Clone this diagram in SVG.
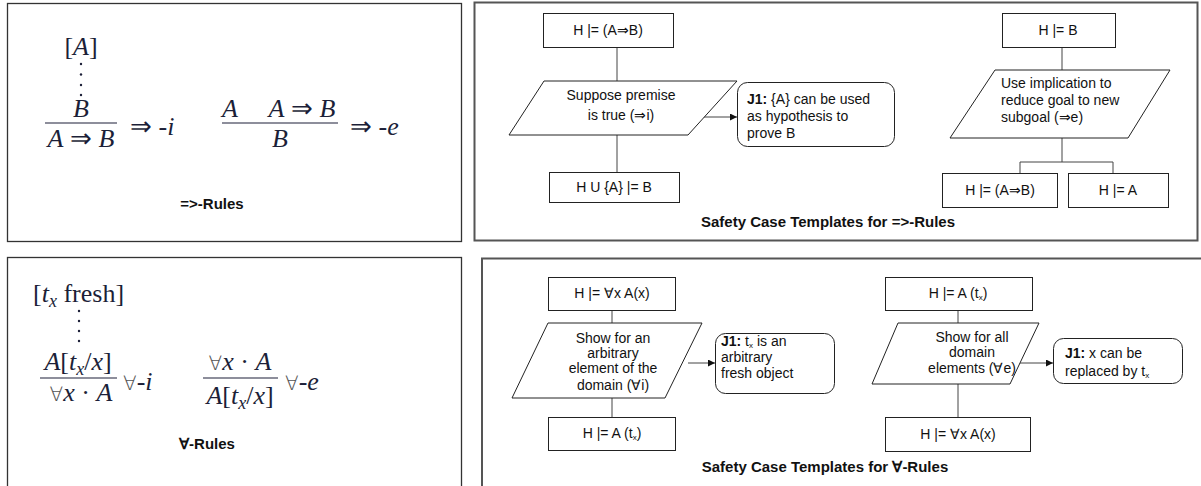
<svg xmlns="http://www.w3.org/2000/svg" width="1201" height="486" viewBox="0 0 1201 486">
<style>
.panel{fill:none;stroke:#333;stroke-width:1.3}
.panel2{fill:none;stroke:#555;stroke-width:2}
.box{fill:#fff;stroke:#222;stroke-width:1}
.conn{fill:none;stroke:#444;stroke-width:1}
.t{font-family:"Liberation Sans",Arial,sans-serif;font-size:14px;fill:#111}
.tm{text-anchor:middle}
.b{font-weight:bold}
.sub{font-size:8px}
.title{font-family:"Liberation Sans",Arial,sans-serif;font-size:15px;font-weight:bold;fill:#111;text-anchor:middle}
.m{font-family:"Liberation Serif","Times New Roman",serif;font-size:26px;fill:#1c1f38}
.mi{font-style:italic}
.fa{font-family:"DejaVu Sans",sans-serif;font-weight:200;font-size:20px;fill:#555}
.fl{stroke:#1c1f38;stroke-width:1.2}
.dot{fill:#1c1f38}
</style>
<defs>
<marker id="arr" viewBox="0 0 10 10" refX="10" refY="5" markerWidth="7" markerHeight="7" orient="auto" markerUnits="userSpaceOnUse">
<path d="M0,0 L10,5 L0,10 z" fill="#111"/>
</marker>
</defs>

<!-- Panel 1: =>-Rules -->
<g id="panel-imp-rules">
<rect class="panel" x="7.5" y="3.5" width="454" height="238"/>
<text class="m" x="81" y="55" text-anchor="middle">[<tspan class="mi">A</tspan>]</text>
<circle class="dot" cx="81" cy="64" r="1.2"/><circle class="dot" cx="81" cy="74.5" r="1.2"/><circle class="dot" cx="81" cy="85" r="1.2"/><circle class="dot" cx="81" cy="95" r="1.2"/>
<text class="m mi" x="81" y="117" text-anchor="middle">B</text>
<line class="fl" x1="45" y1="123" x2="117" y2="123"/>
<text class="m" x="81" y="147" text-anchor="middle"><tspan class="mi">A</tspan> ⇒ <tspan class="mi">B</tspan></text>
<text class="m" x="130" y="135">⇒ -<tspan class="mi">i</tspan></text>
<text class="m mi" x="222" y="117">A</text>
<text class="m" x="302" y="117" text-anchor="middle"><tspan class="mi">A</tspan> ⇒ <tspan class="mi">B</tspan></text>
<line class="fl" x1="222" y1="123" x2="338" y2="123"/>
<text class="m mi" x="280" y="147" text-anchor="middle">B</text>
<text class="m" x="350" y="135">⇒ -<tspan class="mi">e</tspan></text>
<text class="title" x="212" y="209">=&gt;-Rules</text>
</g>

<!-- Panel 3: forall-Rules -->
<g id="panel-forall-rules">
<rect class="panel" x="7.5" y="257.5" width="454" height="240"/>
<text class="m" x="33" y="302">[<tspan class="mi">t</tspan><tspan class="mi" style="font-size:18px" dy="5">x</tspan><tspan dy="-5"> fresh]</tspan></text>
<circle class="dot" cx="79" cy="311" r="1.2"/><circle class="dot" cx="79" cy="321" r="1.2"/><circle class="dot" cx="79" cy="331" r="1.2"/><circle class="dot" cx="79" cy="341" r="1.2"/>
<text class="m" x="78" y="370" text-anchor="middle"><tspan class="mi">A</tspan>[<tspan class="mi">t</tspan><tspan class="mi" style="font-size:18px" dy="5">x</tspan><tspan dy="-5">/</tspan><tspan class="mi">x</tspan>]</text>
<line class="fl" x1="40" y1="378" x2="117" y2="378"/>
<text class="m" x="81" y="401" text-anchor="middle"><tspan class="fa">∀</tspan><tspan class="mi">x</tspan> · <tspan class="mi">A</tspan></text>
<text class="m" x="123" y="390"><tspan class="fa">∀</tspan>-<tspan class="mi">i</tspan></text>
<text class="m" x="240" y="370" text-anchor="middle"><tspan class="fa">∀</tspan><tspan class="mi">x</tspan> · <tspan class="mi">A</tspan></text>
<line class="fl" x1="203" y1="378" x2="278" y2="378"/>
<text class="m" x="240" y="404" text-anchor="middle"><tspan class="mi">A</tspan>[<tspan class="mi">t</tspan><tspan class="mi" style="font-size:18px" dy="5">x</tspan><tspan dy="-5">/</tspan><tspan class="mi">x</tspan>]</text>
<text class="m" x="285" y="390"><tspan class="fa">∀</tspan>-<tspan class="mi">e</tspan></text>
<text class="title" x="207" y="449">∀-Rules</text>
</g>

<!-- Panel 2 frame -->
<g id="panel-imp-templates">
<rect class="panel2" x="474.5" y="2.5" width="723" height="238"/>
<text class="title" x="828" y="227">Safety Case Templates for =&gt;-Rules</text>
</g>

<!-- Panel 4 frame -->
<g id="panel-forall-templates">
<path class="panel2" d="M482,500 V258.5 H1203"/>
<text class="title" x="825" y="472">Safety Case Templates for ∀-Rules</text>
</g>

<!-- Connectors -->
<g id="connectors">
<line class="conn" x1="617" y1="47" x2="617" y2="81"/>
<line class="conn" x1="617" y1="135" x2="617" y2="172"/>
<line class="conn" x1="703" y1="117" x2="737" y2="117" marker-end="url(#arr)"/>
<line class="conn" x1="1062" y1="47" x2="1062" y2="70"/>
<polyline class="conn" points="1062,138 1062,162"/>
<polyline class="conn" points="1020,173 1020,162 1113,162 1113,173"/>
<line class="conn" x1="612" y1="310" x2="612" y2="323"/>
<line class="conn" x1="612" y1="398" x2="612" y2="417"/>
<line class="conn" x1="688" y1="363" x2="715" y2="363" marker-end="url(#arr)"/>
<line class="conn" x1="958" y1="310" x2="958" y2="323"/>
<line class="conn" x1="958" y1="384" x2="958" y2="417"/>
<line class="conn" x1="1018" y1="363" x2="1053" y2="363" marker-end="url(#arr)"/>
</g>

<!-- Nodes: => templates -->
<g id="g1">
<rect class="box" x="543.5" y="13.5" width="130" height="34"/>
<text class="t tm" x="608" y="35">H |= (A⇒B)</text>
</g>
<g id="s1">
<polygon class="box" points="544,81 737,81 688,135 509,135"/>
<text class="t tm" x="621" y="100">Suppose premise</text>
<text class="t tm" x="621" y="120">is true (⇒i)</text>
</g>
<g id="j1">
<rect class="box" x="737.5" y="82.5" width="157" height="64" rx="10"/>
<text class="t" x="747" y="104"><tspan class="b">J1:</tspan> {A} can be used</text>
<text class="t" x="747" y="121">as hypothesis to</text>
<text class="t" x="747" y="138">prove B</text>
</g>
<g id="g2">
<rect class="box" x="549.5" y="172.5" width="130" height="30"/>
<text class="t tm" x="614" y="192">H U {A} |= B</text>
</g>
<g id="g3">
<rect class="box" x="1002.5" y="13.5" width="113" height="34"/>
<text class="t tm" x="1058" y="35">H |= B</text>
</g>
<g id="s2">
<polygon class="box" points="995,70 1170,70 1128,138 950,138"/>
<text class="t" x="1001" y="88">Use implication to</text>
<text class="t" x="1001" y="105">reduce goal to new</text>
<text class="t" x="1001" y="122">subgoal (⇒e)</text>
</g>
<g id="g4">
<rect class="box" x="942.5" y="173.5" width="115" height="34"/>
<text class="t tm" x="1000" y="195">H |= (A⇒B)</text>
</g>
<g id="g5">
<rect class="box" x="1068.5" y="173.5" width="100" height="34"/>
<text class="t tm" x="1118" y="195">H |= A</text>
</g>

<!-- Nodes: forall templates -->
<g id="g6">
<rect class="box" x="548.5" y="277.5" width="127" height="33"/>
<text class="t tm" x="612" y="298">H |= ∀x A(x)</text>
</g>
<g id="s3">
<polygon class="box" points="548,323 702,323 665,398 512,398"/>
<text class="t tm" x="613" y="343">Show for an</text>
<text class="t tm" x="613" y="358">arbitrary</text>
<text class="t tm" x="613" y="373">element of the</text>
<text class="t tm" x="613" y="390">domain (∀i)</text>
</g>
<g id="j2">
<rect class="box" x="715.5" y="333.5" width="119" height="60" rx="10"/>
<text class="t" x="721" y="346"><tspan class="b">J1:</tspan> t<tspan class="sub" dy="2">x</tspan><tspan dy="-2"> is an</tspan></text>
<text class="t" x="721" y="362">arbitrary</text>
<text class="t" x="721" y="378">fresh object</text>
</g>
<g id="g7">
<rect class="box" x="548.5" y="417.5" width="127" height="33"/>
<text class="t tm" x="612" y="438">H |= A (t<tspan class="sub" dy="2">x</tspan><tspan dy="-2">)</tspan></text>
</g>
<g id="g8">
<rect class="box" x="885.5" y="277.5" width="147" height="33"/>
<text class="t tm" x="958" y="298">H |= A (t<tspan class="sub" dy="2">x</tspan><tspan dy="-2">)</tspan></text>
</g>
<g id="s4">
<polygon class="box" points="898,323 1039,323 1010,384 872,384"/>
<text class="t tm" x="972" y="342">Show for all</text>
<text class="t tm" x="972" y="357">domain</text>
<text class="t tm" x="972" y="373">elements (∀e)</text>
</g>
<g id="j3">
<rect class="box" x="1053.5" y="338.5" width="129" height="45" rx="10"/>
<text class="t" x="1065" y="358"><tspan class="b">J1:</tspan> x can be</text>
<text class="t" x="1065" y="376">replaced by t<tspan class="sub" dy="2">x</tspan></text>
</g>
<g id="g9">
<rect class="box" x="885.5" y="417.5" width="145" height="34"/>
<text class="t tm" x="958" y="439">H |= ∀x A(x)</text>
</g>
</svg>
